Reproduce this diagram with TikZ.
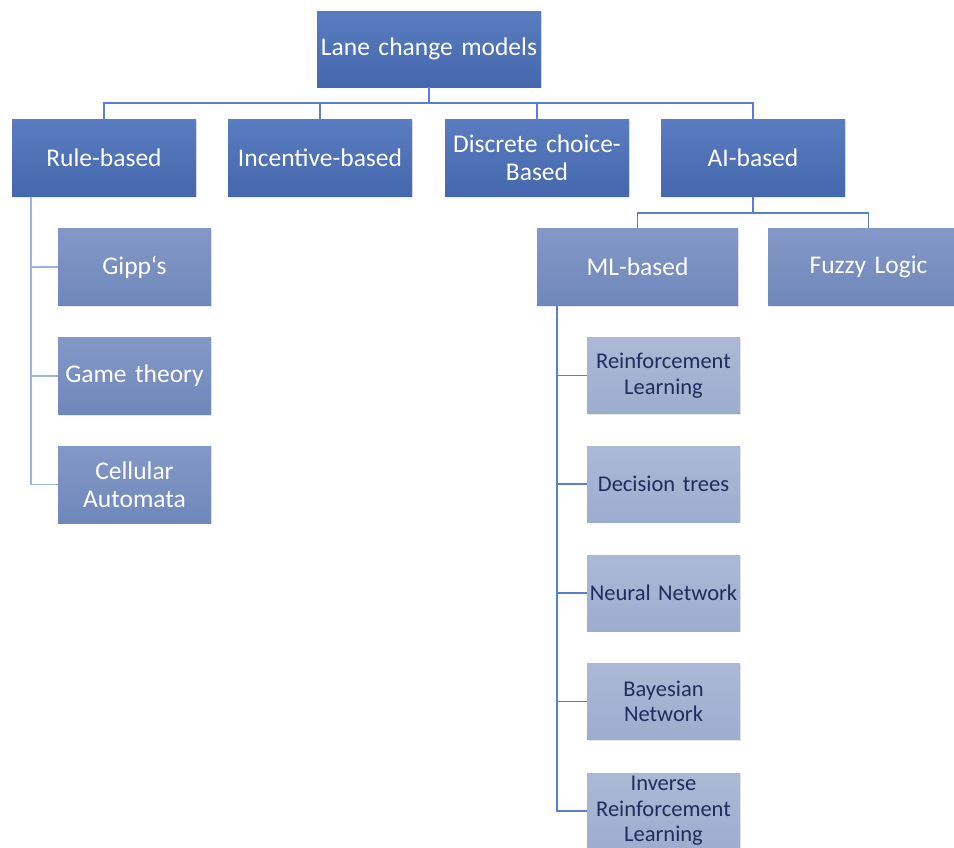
\documentclass[tikz,border=0pt]{standalone}
\usepackage{fontspec}
\setmainfont{Carlito}
\usetikzlibrary{shadows}
\definecolor{lineblue}{HTML}{5A7FD2}
\definecolor{lightline}{HTML}{9DB3E6}
\definecolor{darktext}{HTML}{1F2D5C}
\definecolor{LoneA}{HTML}{5A7DC1}
\definecolor{LoneB}{HTML}{4467AD}
\definecolor{LtwoA}{HTML}{8398C6}
\definecolor{LtwoB}{HTML}{7087BB}
\definecolor{LthrA}{HTML}{ABB9D6}
\definecolor{LthrB}{HTML}{9DADCF}
\tikzset{
  box/.style={draw=none, inner sep=0pt, align=center,
    drop shadow={shadow xshift=1.2pt, shadow yshift=-1.2pt, opacity=0.15, fill=black!60}},
  lvlone/.style={box, top color=LoneA, bottom color=LoneB, text=white,
    minimum width=184pt, minimum height=77pt, text width=180pt,
    font=\fontsize{25.5}{28}\selectfont},
  lvltwo/.style={box, top color=LtwoA, bottom color=LtwoB, text=white,
    minimum height=77pt, font=\fontsize{25.5}{28}\selectfont},
  lvlthree/.style={box, top color=LthrA, bottom color=LthrB, text=darktext,
    minimum width=153pt, minimum height=76pt, text width=152pt,
    font=\fontsize{22.5}{25.5}\selectfont},
  conn/.style={draw=lineblue, line width=1.3pt},
}
\begin{document}
\begin{tikzpicture}[x=1pt,y=-1pt]
\useasboundingbox (0,0) rectangle (954,847);
\clip (0,0) rectangle (954,847);
% top
\node[lvlone, minimum width=224pt, minimum height=76pt, text width=222pt] (top) at (429,49) {Lane change models};
% level 1
\node[lvlone] (rule) at (104,158) {Rule-based};
\node[lvlone] (inc) at (320,158) {Incentive-based};
\node[lvlone] (dis) at (537,158) {Discrete choice-\\Based};
\node[lvlone] (ai) at (753,158) {AI-based};
% level 2
\node[lvltwo, minimum width=153pt, text width=152pt] (gipp) at (134.5,267) {Gipp‘s};
\node[lvltwo, minimum width=153pt, text width=152pt] (game) at (134.5,376) {Game theory};
\node[lvltwo, minimum width=153pt, text width=152pt] (cell) at (134.5,484.5) {Cellular\\Automata};
\node[lvltwo, minimum width=201pt, text width=196pt] (ml) at (637.5,267) {ML-based};
\node[lvltwo, minimum width=201pt, text width=196pt] (fuzzy) at (868.5,267) {Fuzzy Logic};
% level 3
\node[lvlthree] (rl) at (663.5,375.5) {Reinforcement\\Learning};
\node[lvlthree] (dt) at (663.5,484) {Decision trees};
\node[lvlthree] (nn) at (663.5,593) {Neural Network};
\node[lvlthree] (bn) at (663.5,701.5) {Bayesian\\Network};
\node[lvlthree] (irl) at (663.5,811) {Inverse\\Reinforcement\\Learning};
% connectors top -> level 1
\foreach \c in {rule,inc,dis,ai}
  \draw[conn] (top.south) -- (top.south |- 0,103) -| (\c.north);
% rule-based children
\foreach \c in {gipp,game,cell}
  \draw[conn, draw=lightline] (rule.south -| 31,0) |- (\c.west);
% AI children
\foreach \c in {ml,fuzzy}
  \draw[conn] (ai.south) -- (ai.south |- 0,213) -| (\c.north);
% ML children
\foreach \c in {rl,dt,nn,bn,irl}
  \draw[conn] (ml.south -| 557,0) |- (\c.west);
\end{tikzpicture}
\end{document}
